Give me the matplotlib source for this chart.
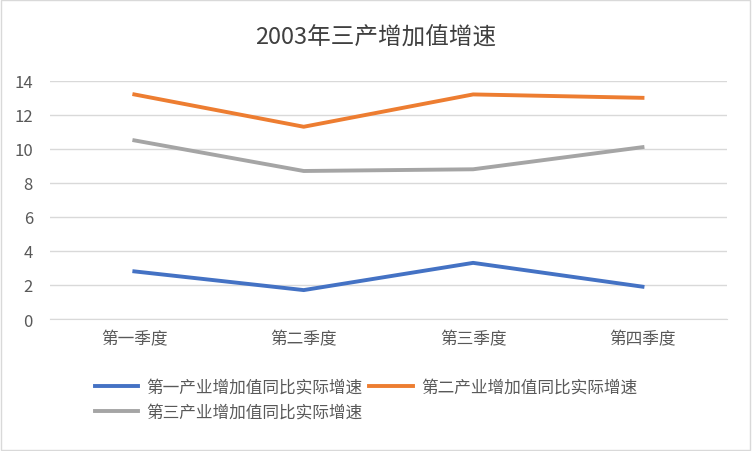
import matplotlib.pyplot as plt
from matplotlib.patches import Rectangle

plt.rcParams['font.family'] = ['Noto Sans CJK SC', 'DejaVu Sans']

quarters = ['第一季度', '第二季度', '第三季度', '第四季度']
primary = [2.8, 1.7, 3.3, 1.9]
secondary = [13.2, 11.3, 13.2, 13.0]
tertiary = [10.5, 8.7, 8.8, 10.1]
names = ['第一产业增加值同比实际增速', '第二产业增加值同比实际增速', '第三产业增加值同比实际增速']
colors = ['#4472C4', '#ED7D31', '#A5A5A5']

fig = plt.figure(figsize=(7.52, 4.52), dpi=100)
ax = fig.add_axes([0.066, 0.292, 0.901, 0.527])
x = range(len(quarters))
lines = []
for vals, name, c in zip([primary, secondary, tertiary], names, colors):
    l, = ax.plot(x, vals, color=c, linewidth=2.8, label=name)
    lines.append(l)

ax.set_xlim(-0.5, 3.5)
ax.set_ylim(0, 14)
ax.set_yticks(range(0, 15, 2))
ax.set_xticks(list(x))
ax.set_xticklabels(quarters)
ax.grid(axis='y', color='#D9D9D9', linewidth=1)
ax.set_axisbelow(True)
for s in ['top', 'right', 'left']:
    ax.spines[s].set_visible(False)
ax.spines['bottom'].set_color('#D9D9D9')
ax.tick_params(length=0, colors='#595959', labelsize=12)
ax.tick_params(axis='y', pad=12)
ax.tick_params(axis='x', pad=8)

fig.text(0.5, 0.915, '2003年三产增加值增速', ha='center', va='center', fontsize=17, color='#404040')
# column-major legend order, so put the third series second
fig.legend(handles=[lines[0], lines[2], lines[1]], loc='upper left', bbox_to_anchor=(0.115, 0.178), ncol=2,
           frameon=False, fontsize=12, labelcolor='#595959', handlelength=2.6, columnspacing=0.4,
           handletextpad=0.5, labelspacing=0.45, borderpad=0)
fig.patches.append(Rectangle((0.001, 0.002), 0.997, 0.995, transform=fig.transFigure,
                             fill=False, edgecolor='#D9D9D9', linewidth=1))
fig.savefig('out.png', dpi=100)
